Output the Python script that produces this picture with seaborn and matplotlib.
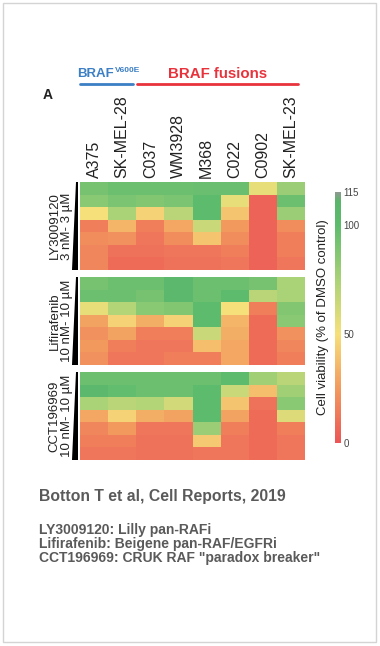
import numpy as np
import pandas as pd
import matplotlib
matplotlib.use('Agg')
import matplotlib.pyplot as plt
from matplotlib.colors import LinearSegmentedColormap
from matplotlib.patches import Polygon, Rectangle
import seaborn as sns

cell_lines = ['A375', 'SK-MEL-28', 'C037', 'WM3928', 'M368', 'C022', 'C0902', 'SK-MEL-23']

# rows = increasing dose (7 steps), values = % of DMSO control
ly3009120 = [
    [92, 95, 95, 95, 96, 96, 55, 80],
    [85, 90, 88, 90, 100, 55, 5, 95],
    [50, 75, 45, 70, 100, 40, 5, 80],
    [15, 35, 15, 30, 65, 25, 5, 20],
    [20, 22, 12, 20, 40, 20, 5, 15],
    [18, 10, 10, 12, 12, 15, 5, 15],
    [18, 8, 8, 10, 10, 12, 5, 12],
]
lifirafenib = [
    [92, 95, 95, 105, 95, 95, 92, 75],
    [95, 95, 92, 105, 95, 100, 70, 75],
    [55, 72, 85, 88, 100, 50, 15, 88],
    [28, 45, 32, 45, 100, 35, 8, 85],
    [22, 28, 15, 15, 65, 32, 8, 22],
    [25, 15, 12, 12, 38, 30, 8, 18],
    [22, 12, 12, 15, 15, 30, 8, 15],
]
cct196969 = [
    [95, 95, 95, 95, 95, 100, 78, 70],
    [105, 98, 95, 95, 100, 65, 38, 78],
    [75, 70, 72, 62, 100, 40, 10, 85],
    [30, 45, 32, 28, 100, 28, 8, 58],
    [18, 25, 12, 12, 80, 15, 8, 15],
    [15, 15, 10, 10, 42, 12, 8, 12],
    [12, 12, 10, 10, 12, 12, 8, 12],
]
drug_labels = ['LY3009120\n3 nM- 3 µM', 'Lifirafenib\n10 nM- 10 µM', 'CCT196969\n10 nM- 10 µM']
cbar_ticks = [0, 50, 100, 115]
notes = ['LY3009120: Lilly pan-RAFi', 'Lifirafenib: Beigene pan-RAF/EGFRi',
         'CCT196969: CRUK RAF "paradox breaker"']

sns.set_theme(style='white')
plt.rcParams['font.family'] = ['Liberation Sans', 'DejaVu Sans']

cmap = LinearSegmentedColormap.from_list('viab', [
    (0.0, '#ec5656'), (25 / 115, '#f29a5e'), (50 / 115, '#f6e07a'),
    (75 / 115, '#aad277'), (100 / 115, '#5dbb6d'), (111 / 115, '#5ab56a'),
    (1.0, '#8e9a90')])

W, H = 380, 646
fig = plt.figure(figsize=(W / 100, H / 100), dpi=100)


def fx(px):
    return px / W


def fy(py):
    return 1 - py / H


tops = [182, 277, 372]
hm_h = 88
x0, x1 = 80, 305
cax = fig.add_axes([fx(335), fy(443), fx(6), (443 - 192) / H])

for i, (data, label) in enumerate(zip([ly3009120, lifirafenib, cct196969], drug_labels)):
    top = tops[i]
    ax = fig.add_axes([fx(x0), fy(top + hm_h), fx(x1 - x0), hm_h / H])
    df = pd.DataFrame(data, columns=cell_lines)
    sns.heatmap(df, ax=ax, cmap=cmap, vmin=0, vmax=115,
                cbar=(i == 0), cbar_ax=cax if i == 0 else None,
                xticklabels=(i == 0), yticklabels=False)
    if i == 0:
        ax.xaxis.tick_top()
        ax.tick_params(axis='x', length=0, pad=3)
        plt.setp(ax.get_xticklabels(), rotation=90, fontsize=11.5, color='#222222')
    else:
        ax.set_xticks([])
    ax.set_xlabel('')
    ax.set_ylabel('')
    # dose wedge
    fig.patches.append(Polygon([(fx(76), fy(top)), (fx(78), fy(top)),
                                (fx(78), fy(top + hm_h)), (fx(72), fy(top + hm_h))],
                               closed=True, transform=fig.transFigure,
                               facecolor='black', edgecolor='none'))
    fig.text(fx(61), fy(top + hm_h / 2), label, rotation=90, ha='center', va='center',
             multialignment='center', fontsize=9.5, color='#222222', linespacing=1.1)

cax.set_yticks(cbar_ticks)
cax.set_yticklabels([str(t) for t in cbar_ticks])
cax.tick_params(axis='y', length=0, pad=2, labelsize=7, labelcolor='#444444')
for s in cax.spines.values():
    s.set_visible(False)
fig.text(fx(323), fy(317), 'Cell viability (% of DMSO control)', rotation=90,
         ha='center', va='center', fontsize=9.5, color='#222222')

# group header
fig.text(fx(77), fy(74), 'BRAF', color='#3c7fc4', fontsize=9.5,
         fontweight='bold', ha='left', va='center')
fig.text(fx(115), fy(70), 'V600E', color='#3c7fc4', fontsize=6,
         fontweight='bold', ha='left', va='center')
fig.text(fx(218), fy(74), 'BRAF fusions', color='#e8333c', fontsize=10.8,
         fontweight='bold', ha='center', va='center')
fig.lines.append(plt.Line2D([fx(80), fx(133)], [fy(84), fy(84)], transform=fig.transFigure,
                            color='#3c7fc4', lw=2))
fig.lines.append(plt.Line2D([fx(137), fx(298)], [fy(84), fy(84)], transform=fig.transFigure,
                            color='#e8333c', lw=2))
fig.text(fx(43), fy(95), 'A', fontsize=10, fontweight='bold', ha='left', va='center',
         color='#222222')

fig.text(fx(39), fy(497), 'Botton T et al, Cell Reports, 2019', fontsize=11.3,
         fontweight='bold', color='#5a5a5a', ha='left', va='center')
for k, line in enumerate(notes):
    fig.text(fx(39), fy(530 + 14 * k), line, fontsize=10, fontweight='bold',
             color='#5a5a5a', ha='left', va='center')

fig.patches.append(Rectangle((fx(3), fy(642)), fx(373), (642 - 3) / H, transform=fig.transFigure,
                             facecolor='none', edgecolor='#d4d4d4', lw=1))

fig.savefig('out.png', dpi=100)
